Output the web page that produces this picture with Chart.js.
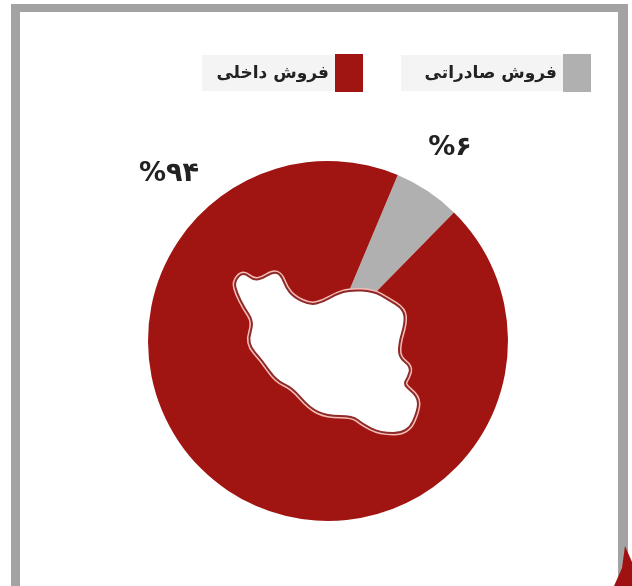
<!DOCTYPE html>
<html lang="fa">
<head>
  <meta charset="UTF-8">
  <title>فروش داخلی و صادراتی</title>
  <script src="https://cdn.jsdelivr.net/npm/chart.js"></script>
  <style>
    html, body { margin: 0; padding: 0; background: #fff; overflow: hidden; }
    body { width: 632px; height: 586px; position: relative; font-family: "DejaVu Sans", sans-serif; }
    #frame { position: absolute; left: 11px; top: 4px; width: 598px; height: 640px; border: solid #a3a3a3; border-width: 8px 10px 0 9px; }
    #corner { position: absolute; left: 610px; top: 540px; width: 22px; height: 46px; background: #a01212; clip-path: polygon(15px 6px, 22px 22px, 22px 46px, 4px 46px, 12px 28px); }
    canvas { position: absolute; left: 0; top: 0; }
    .key { position: absolute; top: 55px; height: 36px; background: #f4f4f4; direction: rtl; font-size: 17px; font-weight: bold; line-height: 34px; color: #222; white-space: nowrap; }
    .key i { position: absolute; top: -1px; right: -28px; width: 28px; height: 38px; }
    .key span { position: absolute; right: 6px; top: 0; }
  </style>
</head>
<body>
  <div id="frame"></div>
  <div id="corner"></div>
  <canvas id="pie" width="632" height="586"></canvas>
  <div id="keys"></div>

  <script>
    const categories = ['فروش صادراتی', 'فروش داخلی'];
    const values = [6, 94];
    const valueLabels = ['%۶', '%۹۴'];
    const colors = ['#b0b0b0', '#a01512'];

    // legend boxes, same order as categories
    const keyBoxes = [[401, 162], [202, 133]];
    // labels are placed by hand in the original
    const labelSpots = [[450, 148], [169, 174]];

    // outline of the map in the middle of the pie
    const mapOutline = [
      [235, 282], [243, 273], [253, 281], [262, 280], [273, 273], [280, 275], [285, 288],
      [293, 298], [310, 306], [323, 303], [337, 295], [350, 291], [373, 292], [387, 300],
      [403, 310], [404, 323], [398, 343], [398, 358], [410, 367], [407, 377], [402, 385],
      [417, 397], [417, 410], [407, 432], [380, 432], [363, 423], [353, 415], [327, 415],
      [310, 407], [293, 387], [277, 380], [263, 360], [248, 343], [255, 322], [245, 307], [238, 293]
    ];

    const keys = document.getElementById('keys');
    categories.forEach((name, i) => {
      const k = document.createElement('div');
      k.className = 'key';
      k.style.left = keyBoxes[i][0] + 'px';
      k.style.width = keyBoxes[i][1] + 'px';
      k.innerHTML = '<span>' + name + '</span><i style="background:' + colors[i] + '"></i>';
      keys.appendChild(k);
    });

    function tracePath(ctx, pts) {
      ctx.beginPath();
      for (let i = 0; i < pts.length; i++) {
        const a = pts[i];
        const b = pts[(i + 1) % pts.length];
        const mx = (a[0] + b[0]) / 2;
        const my = (a[1] + b[1]) / 2;
        if (i === 0) {
          const z = pts[pts.length - 1];
          ctx.moveTo((z[0] + a[0]) / 2, (z[1] + a[1]) / 2);
        }
        ctx.quadraticCurveTo(a[0], a[1], mx, my);
      }
      ctx.closePath();
    }

    const decorations = {
      id: 'decorations',
      afterDatasetsDraw(chart) {
        const ctx = chart.ctx;
        ctx.save();
        tracePath(ctx, mapOutline);
        ctx.lineJoin = 'round';
        ctx.strokeStyle = '#f5bdb6';
        ctx.lineWidth = 7;
        ctx.stroke();
        ctx.strokeStyle = '#8f2a2a';
        ctx.lineWidth = 4;
        ctx.stroke();
        ctx.fillStyle = '#fff';
        ctx.fill();

        ctx.fillStyle = '#222';
        ctx.font = 'bold 27px "DejaVu Sans"';
        ctx.textAlign = 'center';
        ctx.textBaseline = 'middle';
        ctx.direction = 'ltr';
        valueLabels.forEach((t, i) => ctx.fillText(t, labelSpots[i][0], labelSpots[i][1]));
        ctx.restore();
      }
    };

    new Chart(document.getElementById('pie').getContext('2d'), {
      type: 'pie',
      data: {
        labels: categories,
        datasets: [{ data: values, backgroundColor: colors, borderWidth: 0 }]
      },
      options: {
        responsive: false,
        animation: false,
        rotation: 22.8,
        layout: { padding: { left: 148, right: 124, top: 161, bottom: 65 } },
        plugins: { legend: { display: false }, tooltip: { enabled: false } }
      },
      plugins: [decorations]
    });
  </script>
</body>
</html>
